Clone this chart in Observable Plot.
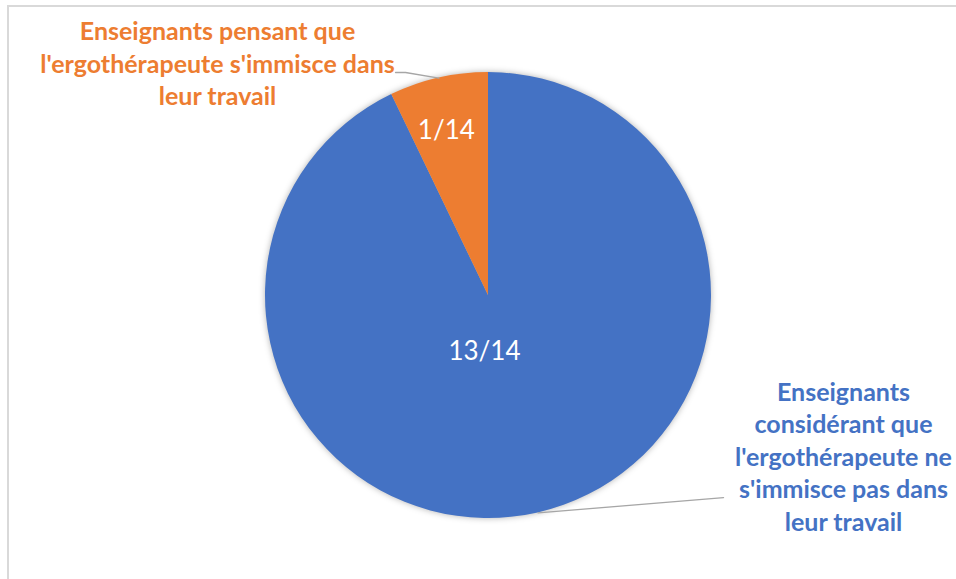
<!DOCTYPE html>
<html>
<head>
<meta charset="utf-8">
<script src="https://cdn.jsdelivr.net/npm/d3@7"></script>
<script src="https://cdn.jsdelivr.net/npm/@observablehq/plot@0.6"></script>
<style>
  html, body { margin: 0; padding: 0; background: #fff; }
  #wrap { position: relative; width: 956px; height: 579px; overflow: hidden; }
  #frame { position: absolute; left: 7px; top: 5px; width: 1000px; height: 1000px;
           border-left: 2px solid #d9d9d9; border-top: 2px solid #d9d9d9; box-sizing: border-box; }
  #chart { position: absolute; left: 0; top: 0; }
</style>
</head>
<body>
<div id="wrap"><div id="frame"></div><div id="chart"></div></div>
<script>
// Data
const categories = [
  "Enseignants considérant que l'ergothérapeute ne s'immisce pas dans leur travail",
  "Enseignants pensant que l'ergothérapeute s'immisce dans leur travail"
];
const categoryLabels = [
  "Enseignants\nconsidérant que\nl'ergothérapeute ne\ns'immisce pas dans\nleur travail",
  "Enseignants pensant que\nl'ergothérapeute s'immisce dans\nleur travail"
];
const values = [13, 1];
const valueLabels = ["13/14", "1/14"];
const colors = ["#4472C4", "#ED7D31"];

const rows = categories.map((c, i) => ({category: c, value: values[i], label: valueLabels[i], text: categoryLabels[i]}));
const arcs = d3.pie().sort(null).value(d => d.value)(rows);

// layout (unit circle coordinates)
const insideK = [0.26, 0.76];
const insideShift = [-0.076, -0.02];
const outerPos = [[1.592, -0.717], [-1.215, 1.045]];
const leaderEnds = [[[1.054, -0.906]], [[-0.372, 1.0], [-0.417, 1.0]]];

const mid = a => (a.startAngle + a.endAngle) / 2;
const inside = arcs.map((a, i) => ({...a.data, x: insideK[i] * Math.sin(mid(a)) + insideShift[i], y: insideK[i] * Math.cos(mid(a))}));
const outside = arcs.map((a, i) => ({...a.data, x: outerPos[i][0], y: outerPos[i][1]}));
const leaders = arcs.flatMap((a, i) => [
  {category: a.data.category, x: Math.sin(mid(a)), y: Math.cos(mid(a))},
  ...leaderEnds[i].map(p => ({category: a.data.category, x: p[0], y: p[1]}))
]);

const cx = 488, cy = 295, r = 223;

const pieMark = (index, scales, vals, dims, context) => {
  const x0 = scales.x(0), y0 = scales.y(0), R = scales.x(1) - scales.x(0);
  const arc = d3.arc().innerRadius(0).outerRadius(R);
  const g = d3.create("svg:g")
    .attr("transform", `translate(${x0},${y0})`)
    .style("filter", "drop-shadow(0px 0px 3px rgba(0,0,0,0.3))");
  g.selectAll("path").data(arcs).join("path")
    .attr("d", arc)
    .attr("fill", d => scales.color(d.data.category));
  return g.node();
};

const chart = Plot.plot({
  width: 956,
  height: 579,
  margin: 0,
  x: {domain: [-1, 1], range: [cx - r, cx + r], axis: null},
  y: {domain: [-1, 1], range: [cy + r, cy - r], axis: null},
  color: {domain: categories, range: colors},
  style: {background: "transparent", overflow: "visible"},
  marks: [
    pieMark,
    Plot.line(leaders, {x: "x", y: "y", z: "category", stroke: "#a6a6a6", strokeWidth: 1.3}),
    Plot.text(inside, {x: "x", y: "y", text: "label", fill: "white",
      fontFamily: "Lato, sans-serif", fontSize: 26}),
    Plot.text(outside, {x: "x", y: "y", text: "text", fill: "category",
      fontFamily: "Lato, sans-serif", fontSize: 25, fontWeight: "bold", lineHeight: 1.3})
  ]
});
document.getElementById("chart").appendChild(chart);
</script>
</body>
</html>
